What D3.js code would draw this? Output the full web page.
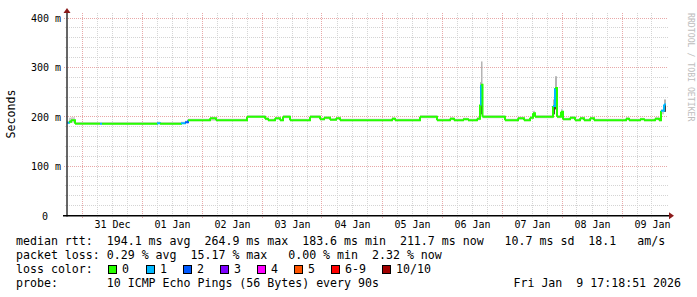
<!DOCTYPE html>
<html>
<head>
<meta charset="utf-8">
<script src="https://cdn.jsdelivr.net/npm/d3@7"></script>
<style>
  body { margin: 0; background: #fff; }
  text { font-family: "DejaVu Sans Mono", monospace; fill: #000; }
</style>
</head>
<body>
<svg id="chart" width="697" height="297"></svg>
<script>
// time window of the graph
const startTime = new Date(2025, 11, 30, 18, 0);
const endTime = new Date(2026, 0, 9, 18, 0);
const lastHour = 239.6;

// per segment: hours since start, median rtt (ms), lost pings (of 10), smoke band (ms)
const hours   = [0, 0.8, 1.6, 3.2, 13.2, 14, 36, 37.2, 45.6, 47.2, 48.4, 57.2, 59.6, 72, 79.2, 80.4, 83.2, 85.2, 86.4, 89.2,
                 97.2, 101.2, 102.8, 105.2, 107.6, 109.2, 130, 131.2, 141.2, 148, 153.2, 154.8, 158.4, 160.4, 164, 165.2, 165.6, 166.2,
                 175.2, 180.4, 182.8, 185.2, 186.4, 187.2, 194.4, 195.2, 196, 197.6, 198.4, 201.2, 203.2, 205.2, 206.8, 209.2, 210.8,
                 223.6, 224.8, 229.2, 230.8, 235.2, 236.8, 237.6, 238.8];
const median  = [188, 190, 193, 186, 186, 186, 187, 186, 187, 189, 193, 197, 193, 200, 196, 193, 197, 193, 200, 193,
                 200, 195, 198, 194, 197, 193, 196, 193, 200, 193, 196, 193, 195, 193, 196, 225, 264.9, 200,
                 193, 197, 193, 198, 207, 200, 222, 258, 200, 210, 195, 198, 193, 197, 193, 197, 193,
                 196, 193, 195, 193, 196, 193, 212, 225];
const loss    = [1, 0, 0, 0, 1, 0, 1, 0, 1, 2, 0, 0, 0, 0, 0, 0, 0, 0, 0, 0,
                 0, 0, 0, 0, 0, 0, 0, 0, 0, 0, 0, 0, 0, 0, 0, 1, 0, 0,
                 0, 0, 0, 0, 0, 0, 1, 0, 0, 0, 0, 0, 0, 0, 0, 0, 0,
                 0, 0, 0, 0, 0, 0, 1, 1];
const smokeLo = [186, 187, 188, 184, 184, 184, 185, 184, 185, 187, 191, 192, 191, 198, 193, 191, 194, 191, 197, 191,
                 197, 193, 195, 192, 194, 191, 193, 191, 197, 191, 193, 191, 193, 191, 193, 200, 205, 197,
                 191, 194, 191, 195, 200, 197, 205, 215, 197, 202, 193, 195, 191, 194, 191, 194, 191,
                 193, 191, 193, 191, 193, 191, 205, 210];
const smokeHi = [191, 198, 199, 189, 189, 189, 190, 189, 190, 192, 196, 200, 196, 203, 199, 196, 200, 196, 203, 196,
                 203, 198, 201, 197, 200, 196, 199, 196, 203, 196, 199, 196, 198, 196, 199, 270, 312, 203,
                 196, 200, 196, 201, 212, 203, 235, 282, 203, 216, 198, 201, 196, 200, 196, 200, 196,
                 199, 196, 198, 196, 199, 196, 215, 235];

const lossColors = ["#26ff00", "#00b8ff", "#0059ff", "#7e00ff", "#ff00ff", "#ff5500", "#ff0000", "#ff0000", "#ff0000", "#ff0000", "#a10000"];
const legendLabels = ["0", "1", "2", "3", "4", "5", "6-9", "10/10"];
const legendColors = ["#26ff00", "#00b8ff", "#0059ff", "#7e00ff", "#ff00ff", "#ff5500", "#ff0000", "#a10000"];
const yTicks = [0, 100, 200, 300, 400];

const legendLines = [
  "median rtt:  194.1 ms avg  264.9 ms max  183.6 ms min  211.7 ms now   10.7 ms sd  18.1   am/s",
  "packet loss: 0.29 % avg  15.17 % max   0.00 % min  2.32 % now",
  "loss color:",
  "probe:       10 ICMP Echo Pings (56 Bytes) every 90s"
];
const stamp = "Fri Jan  9 17:18:51 2026";

const svg = d3.select("#chart");
const plotL = 67, plotR = 667, plotT = 13, plotB = 215.5;

const x = d3.scaleTime().domain([startTime, endTime]).range([plotL, plotR]);
const y = d3.scaleLinear().domain([0, 400]).range([plotB, 18]);
const atHour = h => new Date(startTime.getTime() + h * 3600e3);
const crisp = v => Math.floor(v) + 0.5;

// grid
const grid = svg.append("g");
d3.range(20, 420, 20).filter(v => v % 100 !== 0).forEach(v => {
  grid.append("line").attr("x1", plotL - 2).attr("x2", plotR + 1)
    .attr("y1", crisp(y(v))).attr("y2", crisp(y(v)))
    .attr("stroke", "#d4d4d4").attr("stroke-dasharray", "1,1");
});
d3.timeHour.every(6).range(startTime, endTime).filter(d => d.getHours() !== 0 && d > startTime).forEach(d => {
  grid.append("line").attr("x1", crisp(x(d))).attr("x2", crisp(x(d)))
    .attr("y1", plotT).attr("y2", plotB + 2)
    .attr("stroke", "#d4d4d4").attr("stroke-dasharray", "1,1");
});
yTicks.filter(v => v > 0).forEach(v => {
  grid.append("line").attr("x1", plotL - 3).attr("x2", plotR + 1)
    .attr("y1", crisp(y(v))).attr("y2", crisp(y(v)))
    .attr("stroke", "#e8a8a8").attr("stroke-dasharray", "1,1");
});
d3.timeDay.range(startTime, endTime).filter(d => d > startTime).forEach(d => {
  grid.append("line").attr("x1", crisp(x(d))).attr("x2", crisp(x(d)))
    .attr("y1", plotT).attr("y2", plotB + 3)
    .attr("stroke", "#e8a8a8").attr("stroke-dasharray", "1,1");
});

// smoke and median
const segEnd = i => (i + 1 < hours.length ? hours[i + 1] : lastHour);
const plot = svg.append("g");
hours.forEach((h, i) => {
  const x0 = x(atHour(h)), x1 = x(atHour(segEnd(i)));
  const spread = smokeHi[i] - smokeLo[i];
  plot.append("rect").attr("x", x0).attr("width", Math.max(1, x1 - x0))
    .attr("y", y(smokeHi[i])).attr("height", y(smokeLo[i]) - y(smokeHi[i]))
    .attr("fill", spread > 20 ? "#b4b4b4" : "#cdcdcd");
  if (spread > 20) {
    // darker core of the smoke on the spikes
    plot.append("rect").attr("x", x0).attr("width", Math.max(1, x1 - x0))
      .attr("y", y(median[i])).attr("height", y(smokeLo[i]) - y(median[i]))
      .attr("fill", "#444");
  }
});
hours.forEach((h, i) => {
  const x0 = x(atHour(h)), x1 = x(atHour(segEnd(i)));
  const next = i + 1 < hours.length ? median[i + 1] : median[i];
  plot.append("path")
    .attr("d", `M${x0},${y(median[i])}H${x1}V${y(next)}`)
    .attr("fill", "none")
    .attr("stroke", lossColors[loss[i]])
    .attr("stroke-width", 2);
});

// axes lines and arrows
svg.append("line").attr("x1", plotL).attr("x2", plotL).attr("y1", plotT).attr("y2", plotB + 1)
  .attr("stroke", "#333").attr("stroke-width", 1.5);
svg.append("line").attr("x1", plotL - 4).attr("x2", plotR + 4).attr("y1", 215.8).attr("y2", 215.8)
  .attr("stroke", "#000").attr("stroke-width", 1.6);
svg.append("path").attr("d", `M${plotR + 2},212.3L${plotR + 7},215.8L${plotR + 2},219.3Z`).attr("fill", "#8b1a1a");
svg.append("path").attr("d", `M${plotL - 3.5},${plotT}L${plotL},${plotT - 5}L${plotL + 3.5},${plotT}Z`).attr("fill", "#8b1a1a");

// x labels at noon
const xAxis = d3.axisBottom(x)
  .tickValues(d3.timeDay.range(startTime, endTime).filter(d => d > startTime).map(d => d3.timeHour.offset(d, 12)))
  .tickFormat(d3.timeFormat("%d %b"))
  .tickSize(0);
const xg = svg.append("g").call(xAxis);
xg.select(".domain").remove();
xg.selectAll("text").attr("y", 228).attr("dy", null)
  .style("font-family", "DejaVu Sans Mono").style("font-size", "10px").attr("fill", "#000");

// y labels
const yAxis = d3.axisLeft(y).tickValues(yTicks).tickFormat(v => v === 0 ? "0" : v + " m").tickSize(0);
const yg = svg.append("g").attr("transform", "translate(61,0)").call(yAxis);
yg.select(".domain").remove();
yg.selectAll("text").attr("x", d => d === 0 ? -13 : 0).attr("dy", "0.35em")
  .style("font-family", "DejaVu Sans Mono").style("font-size", "10px").attr("fill", "#000");

// axis title
svg.append("text").attr("transform", "translate(15,114) rotate(-90)")
  .attr("text-anchor", "middle").style("font-size", "11.6px").text("Seconds");

// watermark
svg.append("text").attr("transform", "translate(688,13) rotate(90)")
  .style("font-size", "8.2px").style("fill", "#bdbdbd").text("RRDTOOL / TOBI OETIKER");

// legend
const baselines = [245, 259, 273, 287];
legendLines.forEach((t, i) => {
  svg.append("text").attr("x", 16).attr("y", baselines[i])
    .style("font-size", "11.6px").style("white-space", "pre").text(t);
});
const legendX = [108, 146, 183, 220, 257, 294, 331, 382];
legendLabels.forEach((l, i) => {
  svg.append("rect").attr("x", legendX[i] + 0.5).attr("y", 265.5).attr("width", 8).attr("height", 8)
    .attr("fill", legendColors[i]).attr("stroke", "#000").attr("stroke-width", 1);
  svg.append("text").attr("x", legendX[i] + 14).attr("y", baselines[2])
    .style("font-size", "11.6px").text(l);
});
svg.append("text").attr("x", 681).attr("y", baselines[3]).attr("text-anchor", "end")
  .style("font-size", "11.6px").style("white-space", "pre").text(stamp);
</script>
</body>
</html>
